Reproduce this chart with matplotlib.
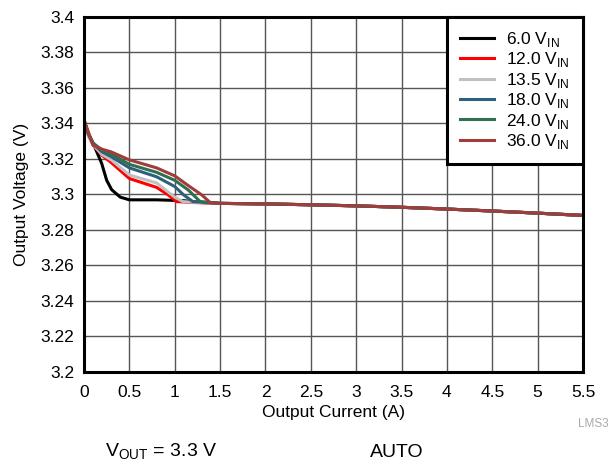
import matplotlib.pyplot as plt
import numpy as np

plt.rcParams['font.family'] = ['Liberation Sans', 'DejaVu Sans']

# Данные кривых
vin_labels = ['6.0', '12.0', '13.5', '18.0', '24.0', '36.0']
colors = ['#000000', '#ff0000', '#c0c0c0', '#2f5f7f', '#2e7050', '#a03c3c']

tail_i = [1.5, 2.0, 2.5, 3.0, 3.5, 4.0, 4.5, 5.0, 5.5]
tail_v = [3.2950, 3.2947, 3.2942, 3.2936, 3.2928, 3.2918, 3.2907, 3.2895, 3.2882]

i_6 = [0.0, 0.03, 0.1, 0.195, 0.25, 0.305, 0.4, 0.5, 0.8, 1.1, 1.3]
v_6 = [3.342, 3.336, 3.329, 3.3175, 3.308, 3.3027, 3.2985, 3.297, 3.297, 3.2965, 3.2955]

i_12 = [0.0, 0.05, 0.1, 0.2, 0.3, 0.5, 0.8, 0.93, 1.02, 1.2]
v_12 = [3.342, 3.333, 3.328, 3.322, 3.318, 3.309, 3.304, 3.2997, 3.296, 3.2955]

i_135 = [0.0, 0.05, 0.1, 0.2, 0.3, 0.5, 0.8, 1.0, 1.09, 1.25]
v_135 = [3.342, 3.333, 3.328, 3.3225, 3.3195, 3.311, 3.3065, 3.2985, 3.296, 3.2955]

i_18 = [0.0, 0.05, 0.1, 0.2, 0.3, 0.5, 0.8, 1.0, 1.1, 1.2, 1.35]
v_18 = [3.342, 3.334, 3.3285, 3.324, 3.3213, 3.315, 3.310, 3.3045, 3.2997, 3.296, 3.2955]

i_24 = [0.0, 0.05, 0.1, 0.2, 0.3, 0.5, 0.8, 1.0, 1.15, 1.28, 1.4]
v_24 = [3.342, 3.334, 3.329, 3.325, 3.3228, 3.317, 3.3125, 3.308, 3.3025, 3.296, 3.2955]

i_36 = [0.0, 0.05, 0.1, 0.2, 0.3, 0.5, 0.8, 1.0, 1.15, 1.3, 1.39, 1.45]
v_36 = [3.342, 3.335, 3.3277, 3.3255, 3.324, 3.3195, 3.315, 3.3105, 3.305, 3.2997, 3.2955, 3.2952]

series_i = [i_6, i_12, i_135, i_18, i_24, i_36]
series_v = [v_6, v_12, v_135, v_18, v_24, v_36]

fig = plt.figure(figsize=(6.13, 4.65), dpi=100)
ax = fig.add_axes([84 / 613, 1 - 372 / 465, 499 / 613, 355 / 465])

for lab, col, xs, ys in zip(vin_labels, colors, series_i, series_v):
    x = list(xs) + tail_i
    y = list(ys) + tail_v
    ax.plot(x, y, color=col, lw=2.2, label=lab + r' V$_{\mathregular{IN}}$')

ax.set_xlim(0, 5.5)
ax.set_ylim(3.2, 3.4)
ax.set_xticks(np.arange(0, 5.51, 0.5))
ax.set_xticklabels(['0', '0.5', '1', '1.5', '2', '2.5', '3', '3.5', '4', '4.5', '5', '5.5'])
ax.set_yticks(np.arange(3.2, 3.401, 0.02))
ax.set_yticklabels(['3.2', '3.22', '3.24', '3.26', '3.28', '3.3', '3.32', '3.34', '3.36', '3.38', '3.4'])
ax.tick_params(axis='both', labelsize=12.5, length=0)
ax.tick_params(axis='x', pad=9)
ax.tick_params(axis='y', pad=7)
ax.grid(True, color='#555555', lw=1)
for s in ax.spines.values():
    s.set_linewidth(2.2)

ax.set_xlabel('Output Current (A)', fontsize=12.5, labelpad=4)
ax.set_ylabel('Output Voltage (V)', fontsize=12.5, labelpad=8)

leg = ax.legend(loc='upper right', fontsize=12.5, frameon=True, fancybox=False,
                edgecolor='black', handlelength=2.0, handletextpad=0.7, borderpad=0.75,
                labelspacing=0.08, borderaxespad=0.0)
leg.get_frame().set_linewidth(2.2)
leg.get_frame().set_alpha(1)

fig.text(578 / 613, 1 - 424 / 465, 'LMS3', color='#aaaaaa', fontsize=8.5, va='center', ha='left')
fig.text(105 / 613, 1 - 452 / 465, r'V$_{\mathregular{OUT}}$ = 3.3 V', fontsize=14, va='center')
fig.text(370 / 613, 1 - 452 / 465, 'AUTO', fontsize=14, va='center')

fig.savefig('out.png', dpi=100)
